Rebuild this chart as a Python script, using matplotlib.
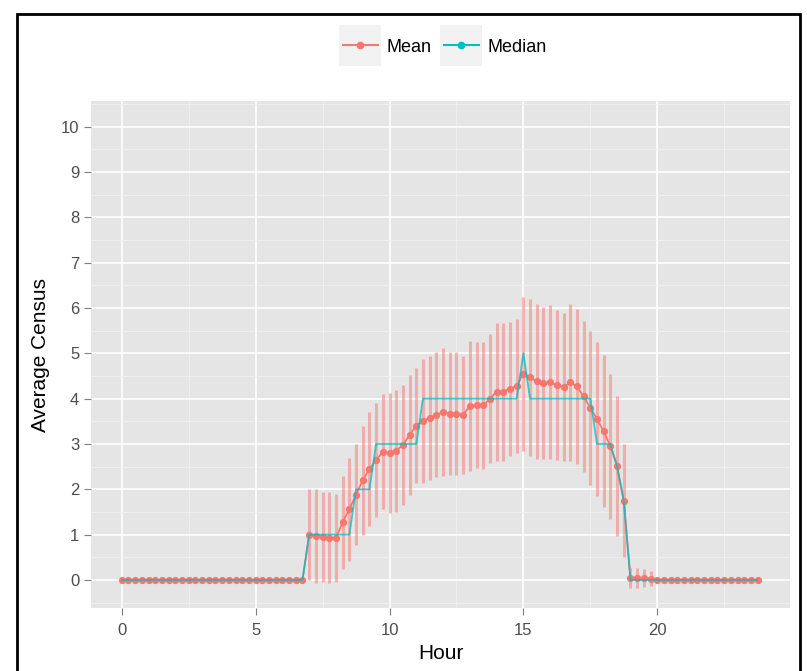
import numpy as np
import matplotlib.pyplot as plt
from matplotlib.patches import Rectangle

plt.rcParams['font.family'] = ['Liberation Sans', 'DejaVu Sans']

# 15-minute slots over the day
hours = np.arange(0, 24, 0.25)

mean_census = ([0.0] * 28 +
               [1.00, 0.97, 0.95, 0.93, 0.93, 1.27, 1.56, 1.88,
                2.20, 2.45, 2.64, 2.83, 2.80, 2.85, 2.98, 3.20,
                3.40, 3.50, 3.58, 3.65, 3.70, 3.67, 3.67, 3.64,
                3.84, 3.86, 3.85, 4.00, 4.15, 4.15, 4.22, 4.28,
                4.55, 4.47, 4.38, 4.34, 4.36, 4.30, 4.25, 4.36,
                4.27, 4.05, 3.80, 3.55, 3.28, 2.95, 2.52, 1.75,
                0.05, 0.05, 0.04, 0.03] +
               [0.0] * 16)

sd_census = ([0.0] * 28 +
             [1.00, 1.03, 1.00, 1.00, 0.97, 1.03, 1.14, 1.12,
              1.20, 1.25, 1.26, 1.27, 1.33, 1.35, 1.32, 1.33,
              1.27, 1.37, 1.37, 1.38, 1.41, 1.36, 1.35, 1.30,
              1.43, 1.38, 1.40, 1.42, 1.52, 1.52, 1.48, 1.47,
              1.70, 1.73, 1.72, 1.68, 1.70, 1.65, 1.63, 1.73,
              1.71, 1.67, 1.70, 1.70, 1.68, 1.60, 1.54, 1.25,
              0.22, 0.22, 0.20, 0.17] +
             [0.0] * 16)

median_census = ([0] * 28 +
                 [1, 1, 1, 1, 1, 1, 1, 2,
                  2, 2, 3, 3, 3, 3, 3, 3,
                  3, 4, 4, 4, 4, 4, 4, 4,
                  4, 4, 4, 4, 4, 4, 4, 4,
                  5, 4, 4, 4, 4, 4, 4, 4,
                  4, 4, 4, 3, 3, 3, 2.5, 1.75,
                  0, 0, 0, 0] +
                 [0] * 16)

red = '#F8766D'
teal = '#00BFC4'

fig = plt.figure(figsize=(8.07, 6.71), dpi=100)
ax = fig.add_axes([91 / 807, 1 - 608 / 671, 699 / 807, 507 / 671])
ax.set_facecolor('#E5E5E5')

# error bars (mean +/- sd)
lo = np.array(mean_census) - np.array(sd_census)
hi = np.array(mean_census) + np.array(sd_census)
ax.vlines(hours, lo, hi, color=red, alpha=0.5, linewidth=2.2, zorder=2)

ax.plot(hours, mean_census, color=red, linewidth=1.3, marker='o',
        markersize=4.2, zorder=3)
ax.plot(hours, median_census, color=teal, linewidth=1.3, alpha=0.75, zorder=4)

ax.set_xticks([0, 5, 10, 15, 20])
ax.set_yticks(range(0, 11))
ax.set_xticks(np.arange(-2.5, 25, 5), minor=True)
ax.set_yticks(np.arange(-0.5, 11, 1), minor=True)
ax.grid(which='major', color='white', linewidth=1.2, zorder=0)
ax.grid(which='minor', color='#F2F2F2', linewidth=0.5, zorder=0)
ax.set_axisbelow(True)
for s in ax.spines.values():
    s.set_visible(False)
ax.tick_params(which='major', colors='#7F7F7F', labelsize=12, length=5,
               labelcolor='#4D4D4D')
ax.tick_params(axis='x', pad=6)
ax.tick_params(which='minor', length=0)

ax.set_xlabel('Hour', fontsize=15, labelpad=4)
ax.set_ylabel('Average Census', fontsize=15, labelpad=8)

h1, = ax.plot([], [], color=red, linewidth=1.5, marker='o', markersize=4.5)
h2, = ax.plot([], [], color=teal, linewidth=1.5, marker='o', markersize=4.5)
ax.set_xlim(-1.15, 24.96)
ax.set_ylim(-0.62, 10.57)
leg = fig.legend([h1, h2], ['Mean', 'Median'], loc='center',
                 bbox_to_anchor=(445 / 807, 1 - 47 / 671), ncol=2,
                 frameon=False, fontsize=13, handlelength=1.9,
                 columnspacing=0.7, handletextpad=0.5)

# grey key backgrounds behind legend handles
fig.canvas.draw()
for ln in leg.get_lines():
    bb = ln.get_window_extent()
    cx = (bb.x0 + bb.x1) / 2
    cy = (bb.y0 + bb.y1) / 2
    w, h = 42, 41
    fig.patches.append(Rectangle(((cx - w / 2) / 807, (cy - h / 2) / 671),
                                 w / 807, h / 671, transform=fig.transFigure,
                                 facecolor='#F2F2F2', edgecolor='none',
                                 zorder=-1))

# black frame around figure
fig.patches.append(Rectangle((17 / 807, -0.01), 783 / 807, (671 - 14) / 671 + 0.01,
                             transform=fig.transFigure, fill=False,
                             edgecolor='black', linewidth=2))

fig.savefig('out.png', dpi=100)
